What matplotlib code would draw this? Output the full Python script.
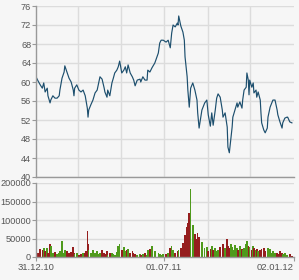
import matplotlib
matplotlib.use("Agg")
import matplotlib.pyplot as plt
import numpy as np
import pandas as pd

START = pd.Timestamp("2010-12-31")
END = pd.Timestamp("2012-01-02")

# days since 31.12.10
days = [
    0, 3, 6, 9, 11, 13, 16, 17, 20, 21,
    24, 27, 30, 33, 34, 37, 40, 41, 44, 47,
    50, 53, 54, 55, 58, 61, 64, 67, 70, 71,
    73, 74, 75, 78, 81, 84, 87, 90, 91, 94,
    97, 98, 101, 102, 105, 108, 110, 112, 115, 117,
    119, 122, 125, 127, 129, 131, 134, 137, 139, 141,
    144, 148, 149, 152, 155, 158, 159, 162, 165, 169,
    174, 176, 178, 181, 185, 188, 191, 193, 195, 198,
    201, 202, 203, 206, 209, 211, 212, 215, 216, 218,
    220, 223, 226, 229, 230, 232, 236, 240, 243, 245,
    248, 250, 252, 255, 257, 259, 262, 265, 266, 269,
    272, 273, 275, 277, 279, 280, 283, 286, 287, 290,
    293, 294, 296, 299, 300, 302, 303, 304, 307, 309,
    310, 313, 314, 316, 319, 320, 321, 324, 326, 329,
    330, 333, 336, 337, 340, 343, 344, 347, 350, 351,
    354, 357, 358, 361, 364,
]

prices = [
    61.1, 60.2, 59.4, 58.7, 59.8, 57.9, 58.7, 57.1, 55.6, 56.2,
    57.1, 56.6, 56.6, 57.1, 58.3, 60.8, 62.1, 63.4, 62.1, 60.8,
    60.0, 58.3, 57.1, 58.7, 59.4, 58.3, 57.9, 58.3, 57.1, 56.2,
    54.5, 52.6, 54.1, 55.2, 56.2, 57.7, 58.3, 60.4, 61.1, 60.6,
    58.7, 57.9, 56.8, 58.3, 57.1, 59.8, 60.8, 61.9, 62.5, 63.2,
    64.4, 61.9, 62.5, 63.2, 61.9, 63.6, 61.9, 61.1, 60.4, 59.2,
    60.4, 60.6, 60.0, 61.1, 60.4, 60.4, 62.5, 62.1, 63.0, 64.0,
    66.1, 68.2, 68.8, 68.8, 68.4, 68.8, 67.2, 70.3, 72.0, 71.6,
    72.4, 72.0, 73.9, 71.8, 70.5, 68.8, 65.3, 61.1, 58.3, 54.7,
    58.7, 59.8, 58.3, 56.2, 53.5, 50.3, 54.1, 55.6, 56.2, 53.1,
    50.7, 53.5, 50.9, 54.1, 56.6, 57.5, 56.8, 54.1, 52.6, 53.5,
    50.5, 46.3, 45.1, 47.8, 50.5, 52.6, 54.1, 55.6, 54.7, 55.8,
    54.5, 56.2, 58.3, 58.9, 61.9, 60.4, 57.3, 60.4, 58.9, 59.8,
    57.7, 58.3, 56.8, 57.9, 56.2, 53.5, 51.4, 49.9, 49.3, 50.3,
    52.6, 54.7, 55.8, 56.2, 56.2, 54.1, 53.1, 51.6, 50.3, 51.4,
    52.4, 52.6, 52.6, 51.6, 51.4,
]

volumes = [
    32000, 12000, 22000, 18000, 24000, 15000, 25000, 12000, 35000, 30000,
    10000, 14000, 8000, 12000, 15000, 43000, 12000, 18000, 15000, 10000,
    14000, 27000, 12000, 8000, 10000, 6000, 8000, 12000, 10000, 15000,
    70000, 35000, 20000, 12000, 18000, 10000, 15000, 8000, 12000, 18000,
    10000, 8000, 15000, 6000, 10000, 12000, 8000, 6000, 14000, 30000,
    35000, 20000, 28000, 15000, 18000, 22000, 12000, 15000, 10000, 8000,
    6000, 9000, 5000, 8000, 12000, 6000, 18000, 22000, 30000, 15000,
    10000, 8000, 6000, 9000, 7000, 12000, 25000, 30000, 18000, 12000,
    10000, 15000, 20000, 25000, 38000, 45000, 60000, 81000, 92000, 119000,
    184000, 86000, 63000, 50000, 65000, 55000, 40000, 25000, 28000, 15000,
    22000, 30000, 18000, 25000, 15000, 20000, 28000, 22000, 35000, 25000,
    48000, 30000, 25000, 35000, 28000, 20000, 32000, 25000, 18000, 30000,
    22000, 20000, 25000, 35000, 44000, 30000, 25000, 28000, 20000, 30000,
    25000, 18000, 22000, 15000, 20000, 18000, 22000, 25000, 15000, 20000,
    25000, 22000, 12000, 15000, 10000, 12000, 8000, 15000, 10000, 8000,
    12000, 6000, 5000, 8000, 4000,
]

price_ticks = [40, 44, 48, 52, 56, 60, 64, 68, 72, 76]
volume_ticks = [0, 50000, 100000, 150000, 200000]
date_ticks = ["2010-12-31", "2011-07-01", "2012-01-02"]
date_labels = ["31.12.10", "01.07.11", "02.01.12"]
grid_dates = ["2011-03-01", "2011-05-01", "2011-07-01", "2011-09-01", "2011-11-01"]

BG = "#f6f6f6"
GRID = "#dcdcdc"
SPINE = "#999999"
TEXT = "#555555"
LINE = "#1d4f6e"
UP = "#4f9a1c"
DOWN = "#951e1e"

plt.rcParams["font.family"] = ["Liberation Sans", "DejaVu Sans"]

dates = START + pd.to_timedelta(days, unit="D")
chg = np.diff(np.r_[prices[0], prices])
bar_colors = [UP if c >= 0 else DOWN for c in chg]

fig = plt.figure(figsize=(2.99, 2.80), dpi=100, facecolor=BG)
ax = fig.add_axes([36 / 299, 1 - 177 / 280, 258 / 299, 171 / 280])
axv = fig.add_axes([36 / 299, 1 - 257 / 280, 258 / 299, 74 / 280])

for a in (ax, axv):
    a.set_facecolor(BG)
    a.set_xlim(START, END)
    for s in ("top", "right"):
        a.spines[s].set_visible(False)
    for s in ("left", "bottom"):
        a.spines[s].set_color(SPINE)
        a.spines[s].set_linewidth(1)
    for d in grid_dates:
        a.axvline(pd.Timestamp(d), color=GRID, lw=1, zorder=0)
    a.tick_params(axis="y", colors=SPINE, labelcolor=TEXT, labelsize=6.6,
                  length=3, pad=0.5)
    a.yaxis.grid(True, color=GRID, lw=1, zorder=0)
    a.set_axisbelow(True)

ax.plot(dates, prices, color=LINE, lw=0.85)
ax.set_ylim(40, 76)
ax.set_yticks(price_ticks)
ax.set_xticks([])

axv.bar(dates, volumes, width=2.2, color=bar_colors, linewidth=0)
axv.set_ylim(0, 200000)
axv.set_yticks(volume_ticks)
axv.set_yticklabels([str(v) for v in volume_ticks])
axv.set_xticks([pd.Timestamp(d) for d in date_ticks])
axv.set_xticklabels(date_labels)
axv.tick_params(axis="x", colors=SPINE, labelcolor=TEXT, labelsize=6.8,
                length=3, pad=1)
axv.get_xticklabels()[-1].set_horizontalalignment("right")

fig.savefig("out.png", dpi=100, facecolor=BG)
